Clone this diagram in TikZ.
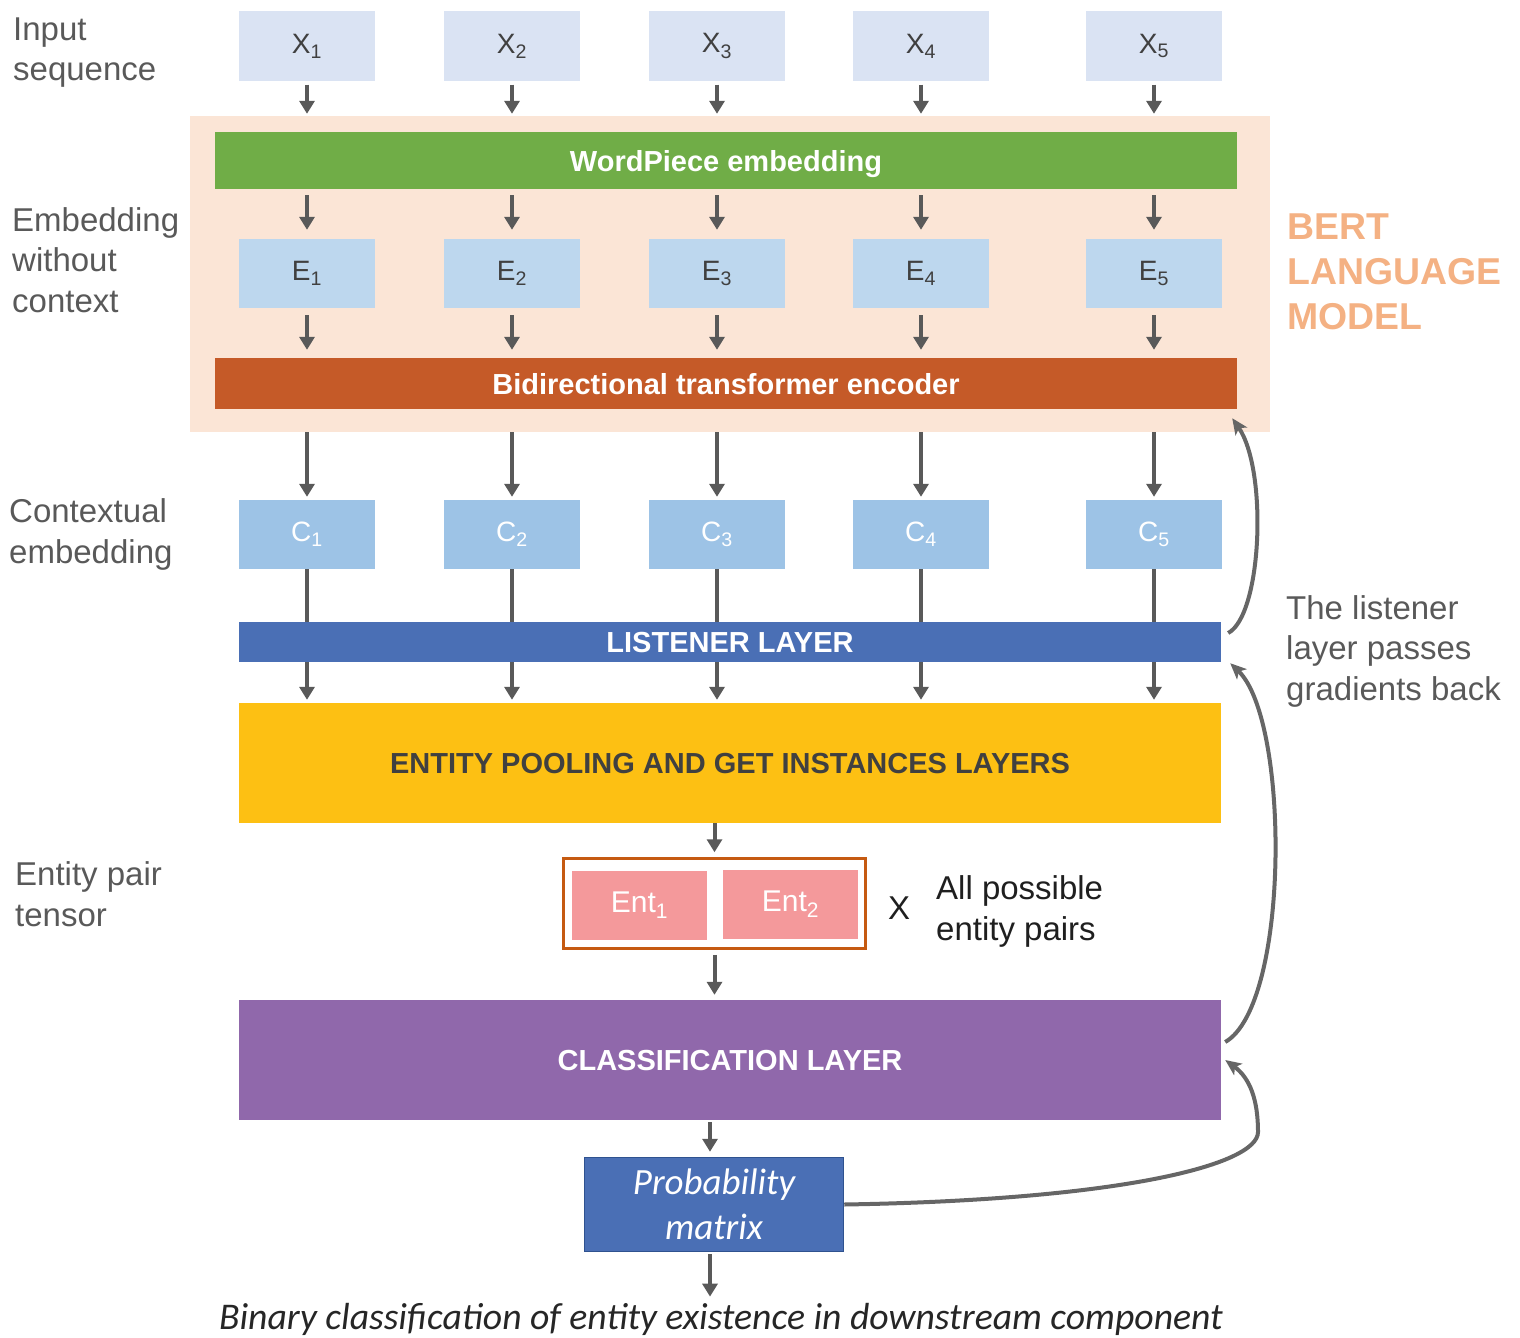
\documentclass[tikz,border=0pt]{standalone}
\usepackage{fontspec}
\setmainfont{Liberation Sans}
\newfontfamily\calib{Carlito}
\usetikzlibrary{arrows.meta}

\definecolor{xfill}{HTML}{DAE3F3}
\definecolor{efill}{HTML}{BDD7EE}
\definecolor{cfill}{HTML}{9DC3E6}
\definecolor{bertbg}{HTML}{FBE5D6}
\definecolor{wpgreen}{HTML}{70AD47}
\definecolor{biorange}{HTML}{C55A28}
\definecolor{lisblue}{HTML}{4A6FB5}
\definecolor{entyellow}{HTML}{FDC013}
\definecolor{entborder}{HTML}{C55A11}
\definecolor{entpink}{HTML}{F4999B}
\definecolor{clspurple}{HTML}{9068AB}
\definecolor{probborder}{HTML}{2F528F}
\definecolor{bertlabel}{HTML}{F4B183}
\definecolor{arrgray}{HTML}{595959}
\definecolor{curvegray}{HTML}{666666}
\definecolor{labgray}{HTML}{595959}
\definecolor{boxtext}{HTML}{404040}

\newcommand\fsz[2]{\fontsize{#1pt}{#2pt}\selectfont}

\begin{document}
\begin{tikzpicture}[x=1pt,y=-1pt,
  cell/.style={minimum width=136pt,minimum height=69pt,inner sep=0pt,font=\fsz{28}{34}},
  xcell/.style={cell,fill=xfill,text=boxtext},
  ecell/.style={cell,fill=efill,text=boxtext},
  ccell/.style={cell,fill=cfill,text=white},
  bar/.style={inner sep=0pt,text=white,font=\bfseries\fsz{29}{35},text height=21pt,text depth=0pt},
  lbl/.style={inner sep=0pt,align=left,text=labgray,font=\fsz{33}{40.5},anchor=base west},
  arr/.style={draw=arrgray,line width=4pt,-{Triangle[width=15pt,length=13pt]}},
  back/.style={draw=curvegray,line width=4pt,-{Stealth[length=16pt,width=14pt,inset=4pt]}}
]
\useasboundingbox (0,0) rectangle (1520,1338);

% BERT block
\node[fill=bertbg,minimum width=1080pt,minimum height=316pt,inner sep=0pt] (bert) at (730,274) {};
\node[bar,fill=wpgreen,minimum width=1022pt,minimum height=57pt] (wp) at (726,160.5) {WordPiece embedding};
\node[bar,fill=biorange,minimum width=1022pt,minimum height=51pt] (bi) at (726,383.5) {Bidirectional transformer encoder};

% token rows
\foreach \i/\cx in {1/307,2/512,3/717,4/921,5/1154}{
  \node[xcell] (x\i) at (\cx,46) {X\textsubscript{\i}};
  \node[ecell] (e\i) at (\cx,273.5) {E\textsubscript{\i}};
  \node[ccell] (c\i) at (\cx,534.5) {C\textsubscript{\i}};
}

% lower layers
\node[bar,fill=entyellow,minimum width=982pt,minimum height=120pt,text=boxtext] (pool) at (730,763) {ENTITY POOLING AND GET INSTANCES LAYERS};
\node[draw=entborder,line width=2.5pt,fill=white,minimum width=302pt,minimum height=90pt,inner sep=0pt] (pair) at (714.5,903.5) {};
\node[fill=entpink,minimum width=135pt,minimum height=69pt,inner sep=0pt,text=white,font=\fsz{30}{36}] (ent1) at (639.5,905.5) {Ent\textsubscript{1}};
\node[fill=entpink,minimum width=135pt,minimum height=69pt,inner sep=0pt,text=white,font=\fsz{30}{36}] (ent2) at (790.5,904.5) {Ent\textsubscript{2}};
\node[bar,fill=clspurple,minimum width=982pt,minimum height=120pt] (cls) at (730,1060) {CLASSIFICATION LAYER};
\node[draw=probborder,line width=1.5pt,fill=lisblue,minimum width=259pt,minimum height=94pt,inner sep=0pt,
      align=center,text=white,font=\calib\itshape\fsz{37}{45}] (prob) at (714,1204.5) {Probability\\matrix};
\node[inner sep=0pt,anchor=base,text=black!85,font=\calib\itshape\fsz{37.7}{45}] (caption) at (721,1329)
  {Binary classification of entity existence in downstream component};

% side labels (anchored at the baseline of their last line)
\node[lbl] (lin) at (13,81) {Input\\sequence};
\node[lbl] (lemb) at (12,312) {Embedding\\without\\context};
\node[lbl] (lctx) at (9,563) {Contextual\\embedding};
\node[lbl] (lpair) at (15,926) {Entity pair\\tensor};
\node[lbl] (lgrad) at (1286,700) {The listener\\layer passes\\gradients back};
\node[lbl,text=black!88] (lall) at (936,940) {All possible\\entity pairs};
\node[inner sep=0pt,anchor=base,text=black!88,font=\fsz{33}{40}] (times) at (899,919) {X};
\node[lbl,text=bertlabel,font=\bfseries\fsz{37.4}{45}] (lbert) at (1287,329) {BERT\\LANGUAGE\\MODEL};

% vertical connectors
\foreach \i in {1,...,5}{
  \draw[arr,shorten <=4pt,shorten >=2pt] (x\i.south) -- (x\i.south |- bert.north);
  \draw[arr,shorten <=6pt,shorten >=9pt] (e\i.north |- wp.south) -- (e\i.north);
  \draw[arr,shorten <=7pt,shorten >=8pt] (e\i.south) -- (e\i.south |- bi.north);
  \draw[arr,shorten >=3pt] (c\i.north |- bert.south) -- (c\i.north);
  \draw[arr,shorten >=3pt] (c\i.south) -- (c\i.south |- pool.north);
}

% listener bar drawn over the connectors that pass beneath it
\node[bar,fill=lisblue,minimum width=982pt,minimum height=40pt] (lis) at (730,642) {LISTENER LAYER};

\draw[arr,shorten >=5pt] (pair.north |- pool.south) -- (pair.north);
\draw[arr,shorten <=5pt,shorten >=5pt] (pair.south) -- (pair.south |- cls.north);
\draw[arr,shorten <=2pt,shorten >=5pt] ([xshift=-4pt]prob.north |- cls.south) -- ([xshift=-4pt]prob.north);
\draw[arr,shorten <=2pt,shorten >=6pt] ([xshift=-4pt]prob.south) -- ([xshift=-4pt]prob.south |- caption.north);

% gradient paths on the right
\draw[back] ([shift={(7,-9)}]lis.east) .. controls (1262,615) and (1268,470) .. ([shift={(-5,9)}]bi.south east);
\draw[back] ([shift={(4,-18)}]cls.east) .. controls (1290,1005) and (1290,720) .. ([shift={(9,1)}]lis.south east);
\draw[back] (prob.east) .. controls (1120,1200) and (1258,1165) .. (1258,1132)
  .. controls (1258,1100) and (1250,1078) .. ([shift={(4,0)}]cls.east);
\end{tikzpicture}
\end{document}
